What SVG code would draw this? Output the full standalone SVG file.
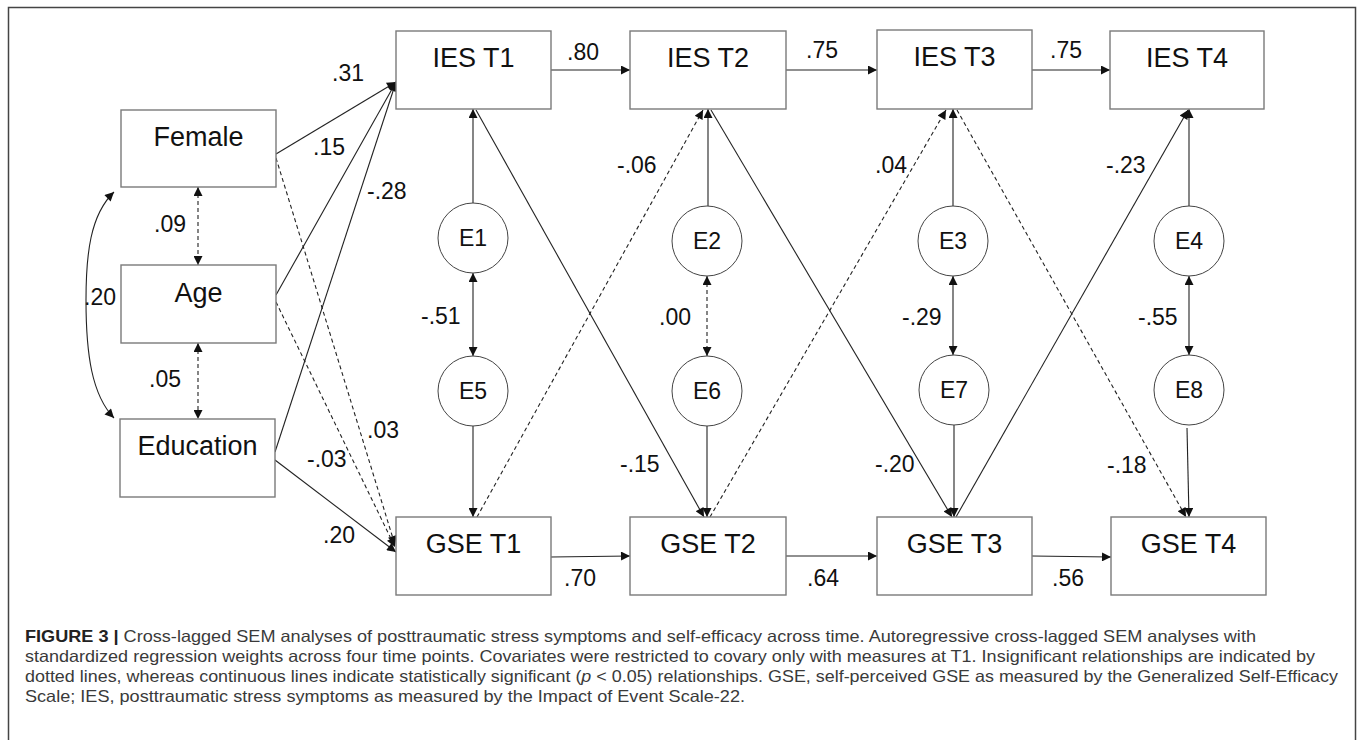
<svg xmlns="http://www.w3.org/2000/svg" width="1357" height="740" viewBox="0 0 1357 740">
<style>
.box{fill:#fff;stroke:#7a7a7a;stroke-width:1.4}
.circ{fill:#fff;stroke:#444;stroke-width:1}
.nt{font-family:"Liberation Sans",Arial,sans-serif;font-size:27px;fill:#111;text-anchor:middle}
.et{font-family:"Liberation Sans",Arial,sans-serif;font-size:23px;fill:#111;text-anchor:middle}
.lb{font-family:"Liberation Sans",Arial,sans-serif;font-size:23px;fill:#111}
.s{fill:none;stroke:#222;stroke-width:1.1;marker-end:url(#ah)}
.d{fill:none;stroke:#222;stroke-width:1.1;stroke-dasharray:4 3;marker-end:url(#ah)}
.bi{marker-start:url(#as)}
.cap{font-family:"Liberation Sans",Arial,sans-serif;font-size:16.5px;fill:#3a3a3a}
</style>
<defs>
<marker id="ah" viewBox="0 0 10 10" refX="10" refY="5" markerWidth="11" markerHeight="9" markerUnits="userSpaceOnUse" orient="auto"><path d="M0,0 L10,5 L0,10 z" fill="#111"/></marker>
<marker id="as" viewBox="0 0 10 10" refX="0" refY="5" markerWidth="11" markerHeight="9" markerUnits="userSpaceOnUse" orient="auto"><path d="M10,0 L0,5 L10,10 z" fill="#111"/></marker>
</defs>
<rect x="0" y="0" width="1357" height="740" fill="#fff"/>
<rect x="8.5" y="7.5" width="1347" height="745" fill="none" stroke="#444" stroke-width="1.5"/>

<g id="connectors">
<path class="s" d="M551,70 L630,70"/>
<path class="s" d="M786,70 L877,70"/>
<path class="s" d="M1032,70 L1110,70"/>
<path class="s" d="M551,557 L630,556"/>
<path class="s" d="M786,556 L877,556"/>
<path class="s" d="M1032,556 L1111,557"/>
<path class="s" d="M276,154 L396,82"/>
<path class="s" d="M276,295 L396,82"/>
<path class="s" d="M275,452 L396,82"/>
<path class="d" d="M276,158 L395,545"/>
<path class="d" d="M276,302 L395,547"/>
<path class="s" d="M275,460 L396,552"/>
<path class="d bi" d="M198,187 L198,265"/>
<path class="d bi" d="M198,343 L198,419"/>
<path class="s bi" d="M114,192 C90,215 86,255 86,300 C86,355 92,395 114,418"/>
<path class="s" d="M473,203 L473,109"/>
<path class="s bi" d="M473,273 L473,356"/>
<path class="s" d="M473,426 L473,517"/>
<path class="s" d="M708,206 L708,109"/>
<path class="d bi" d="M707,276 L707,356"/>
<path class="s" d="M707,426 L707,517"/>
<path class="s" d="M953,206 L953,109"/>
<path class="s bi" d="M953,276 L953,355"/>
<path class="s" d="M954,425 L954,517"/>
<path class="s" d="M1189,206 L1189,109"/>
<path class="s bi" d="M1189,276 L1189,355"/>
<path class="s" d="M1187,428 L1189,517"/>
<path class="s" d="M476,110 L704,517"/>
<path class="d" d="M477,517 L703,110"/>
<path class="s" d="M711,110 L952,517"/>
<path class="d" d="M710,517 L946,110"/>
<path class="d" d="M957,110 L1186,517"/>
<path class="s" d="M956,517 L1188,110"/>
</g>

<g id="labels">
<text class="lb" x="332" y="81">.31</text>
<text class="lb" x="313" y="155">.15</text>
<text class="lb" x="367" y="199">-.28</text>
<text class="lb" x="367" y="438">.03</text>
<text class="lb" x="307" y="467">-.03</text>
<text class="lb" x="323" y="543">.20</text>
<text class="lb" x="154" y="232">.09</text>
<text class="lb" x="149" y="387">.05</text>
<text class="lb" x="84" y="305">.20</text>
<text class="lb" x="567" y="60">.80</text>
<text class="lb" x="806" y="58">.75</text>
<text class="lb" x="1050" y="58">.75</text>
<text class="lb" x="564" y="586">.70</text>
<text class="lb" x="807" y="586">.64</text>
<text class="lb" x="1052" y="586">.56</text>
<text class="lb" x="617" y="173">-.06</text>
<text class="lb" x="875" y="173">.04</text>
<text class="lb" x="1106" y="173">-.23</text>
<text class="lb" x="620" y="472">-.15</text>
<text class="lb" x="875" y="472">-.20</text>
<text class="lb" x="1107" y="473">-.18</text>
<text class="lb" x="421" y="324">-.51</text>
<text class="lb" x="659" y="325">.00</text>
<text class="lb" x="902" y="325">-.29</text>
<text class="lb" x="1138" y="325">-.55</text>
</g>

<g id="female"><rect class="box" x="121" y="110" width="155" height="77"/><text class="nt" x="198.5" y="146">Female</text></g>
<g id="age"><rect class="box" x="121" y="265" width="155" height="78"/><text class="nt" x="198.5" y="302">Age</text></g>
<g id="education"><rect class="box" x="120" y="419" width="155" height="78"/><text class="nt" x="197.5" y="455">Education</text></g>

<g id="ies-t1"><rect class="box" x="396" y="31" width="155" height="78"/><text class="nt" x="473.5" y="67">IES T1</text></g>
<g id="ies-t2"><rect class="box" x="630" y="31" width="156" height="78"/><text class="nt" x="708" y="67">IES T2</text></g>
<g id="ies-t3"><rect class="box" x="877" y="30" width="155" height="79"/><text class="nt" x="954.5" y="66">IES T3</text></g>
<g id="ies-t4"><rect class="box" x="1110" y="31" width="154" height="78"/><text class="nt" x="1187" y="67">IES T4</text></g>

<g id="gse-t1"><rect class="box" x="396" y="517" width="155" height="78"/><text class="nt" x="473.5" y="553">GSE T1</text></g>
<g id="gse-t2"><rect class="box" x="630" y="517" width="156" height="78"/><text class="nt" x="708" y="553">GSE T2</text></g>
<g id="gse-t3"><rect class="box" x="877" y="517" width="155" height="78"/><text class="nt" x="954.5" y="553">GSE T3</text></g>
<g id="gse-t4"><rect class="box" x="1111" y="517" width="155" height="78"/><text class="nt" x="1188.5" y="553">GSE T4</text></g>

<g id="e1"><circle class="circ" cx="473" cy="238" r="35"/><text class="et" x="473" y="246">E1</text></g>
<g id="e2"><circle class="circ" cx="707" cy="241" r="35"/><text class="et" x="707" y="249">E2</text></g>
<g id="e3"><circle class="circ" cx="953" cy="241" r="35"/><text class="et" x="953" y="249">E3</text></g>
<g id="e4"><circle class="circ" cx="1189" cy="241" r="35"/><text class="et" x="1189" y="249">E4</text></g>
<g id="e5"><circle class="circ" cx="473" cy="391" r="35"/><text class="et" x="473" y="399">E5</text></g>
<g id="e6"><circle class="circ" cx="707" cy="391" r="35"/><text class="et" x="707" y="399">E6</text></g>
<g id="e7"><circle class="circ" cx="954" cy="390" r="35"/><text class="et" x="954" y="398">E7</text></g>
<g id="e8"><circle class="circ" cx="1189" cy="390" r="35"/><text class="et" x="1189" y="398">E8</text></g>

<g id="caption">
<text class="cap" x="25" y="642" textLength="1231" lengthAdjust="spacingAndGlyphs"><tspan font-weight="bold" fill="#222">FIGURE 3 |</tspan> Cross-lagged SEM analyses of posttraumatic stress symptoms and self-efficacy across time. Autoregressive cross-lagged SEM analyses with</text>
<text class="cap" x="25" y="662" textLength="1290" lengthAdjust="spacingAndGlyphs">standardized regression weights across four time points. Covariates were restricted to covary only with measures at T1. Insignificant relationships are indicated by</text>
<text class="cap" x="25" y="682" textLength="1313" lengthAdjust="spacingAndGlyphs">dotted lines, whereas continuous lines indicate statistically significant (<tspan font-style="italic">p</tspan> &lt; 0.05) relationships. GSE, self-perceived GSE as measured by the Generalized Self-Efficacy</text>
<text class="cap" x="25" y="702" textLength="720" lengthAdjust="spacingAndGlyphs">Scale; IES, posttraumatic stress symptoms as measured by the Impact of Event Scale-22.</text>
</g>
</svg>
